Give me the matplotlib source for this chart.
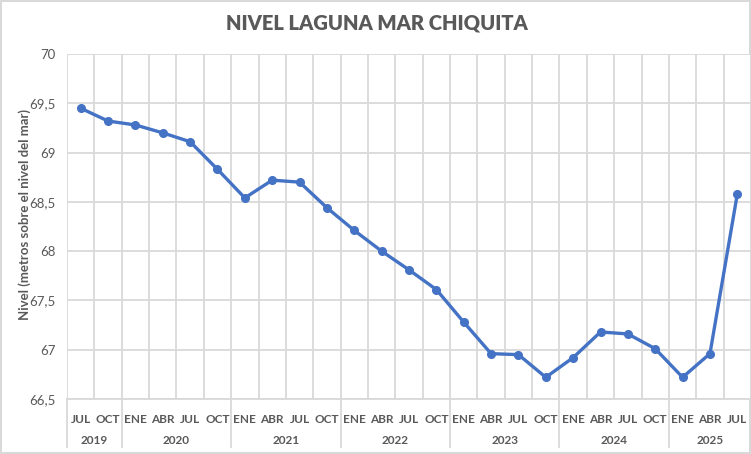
import matplotlib
matplotlib.use("Agg")
import matplotlib.pyplot as plt
from matplotlib.ticker import FuncFormatter, MultipleLocator

plt.rcParams['font.family'] = ['Lato', 'DejaVu Sans']

# datos
meses = ["JUL", "OCT",
         "ENE", "ABR", "JUL", "OCT",
         "ENE", "ABR", "JUL", "OCT",
         "ENE", "ABR", "JUL", "OCT",
         "ENE", "ABR", "JUL", "OCT",
         "ENE", "ABR", "JUL", "OCT",
         "ENE", "ABR", "JUL"]
anios = ["2019", "2020", "2021", "2022", "2023", "2024", "2025"]
meses_por_anio = [2, 4, 4, 4, 4, 4, 3]
nivel = [69.45, 69.32,
         69.28, 69.20, 69.11, 68.83,
         68.54, 68.72, 68.70, 68.44,
         68.21, 68.00, 67.81, 67.61,
         67.28, 66.96, 66.95, 66.72,
         66.92, 67.18, 67.16, 67.01,
         66.72, 66.96, 68.58]

gris = "#595959"
azul = "#4472C4"
rejilla = "#D9D9D9"

fig = plt.figure(figsize=(7.51, 4.54), dpi=100)
fig.patch.set_edgecolor(rejilla)
fig.patch.set_linewidth(1.5)
ax = fig.add_axes([67 / 751, 1 - 399 / 454, 684 / 751, 345 / 454])

x = list(range(len(nivel)))
ax.plot(x, nivel, color=azul, linewidth=2.4, marker='o', markersize=5.5, zorder=3)

ax.set_xlim(-0.5, len(nivel) - 0.5)
ax.set_ylim(66.5, 70)
ax.yaxis.set_major_locator(MultipleLocator(0.5))
ax.yaxis.set_major_formatter(FuncFormatter(lambda v, p: ("%g" % v).replace(".", ",")))

ax.set_xticks(x)
ax.set_xticklabels(meses, fontsize=8.5, fontweight='bold', color=gris)
ax.set_xticks([i - 0.5 for i in range(len(nivel) + 1)], minor=True)
ax.tick_params(axis='x', which='both', length=0, pad=11)
ax.tick_params(axis='y', length=0, pad=8, labelsize=9.5, labelcolor=gris)

ax.grid(True, axis='y', which='major', color=rejilla, linewidth=1.3)
ax.grid(True, axis='x', which='minor', color=rejilla, linewidth=1.3)
ax.set_axisbelow(True)
for s in ax.spines.values():
    s.set_visible(False)
ax.axhline(66.5, color=rejilla, linewidth=1.3, clip_on=False)

# segundo nivel de categorias (años)
tr = ax.get_xaxis_transform()
inicio = 0
limites = [-0.5]
for anio, n in zip(anios, meses_por_anio):
    centro = inicio + (n - 1) / 2
    ax.text(centro, -0.12, anio, transform=tr, ha='center', va='center',
            fontsize=8.5, fontweight='bold', color=gris)
    inicio += n
    limites.append(inicio - 0.5)
for b in limites[:-1]:
    ax.plot([b, b], [0, -0.139], transform=tr, color=rejilla, linewidth=1.3, clip_on=False)

fig.text(25 / 751, 1 - 215 / 454, "Nivel (metros sobre el nivel del mar)", rotation=90,
         ha='center', va='center', fontsize=9.5, fontweight='bold', color=gris)
fig.text(377 / 751, 1 - 23 / 454, "NIVEL LAGUNA MAR CHIQUITA",
         ha='center', va='center', fontsize=14.5, fontweight='heavy', color=gris)

fig.savefig("out.png", dpi=100, edgecolor=fig.get_edgecolor())
